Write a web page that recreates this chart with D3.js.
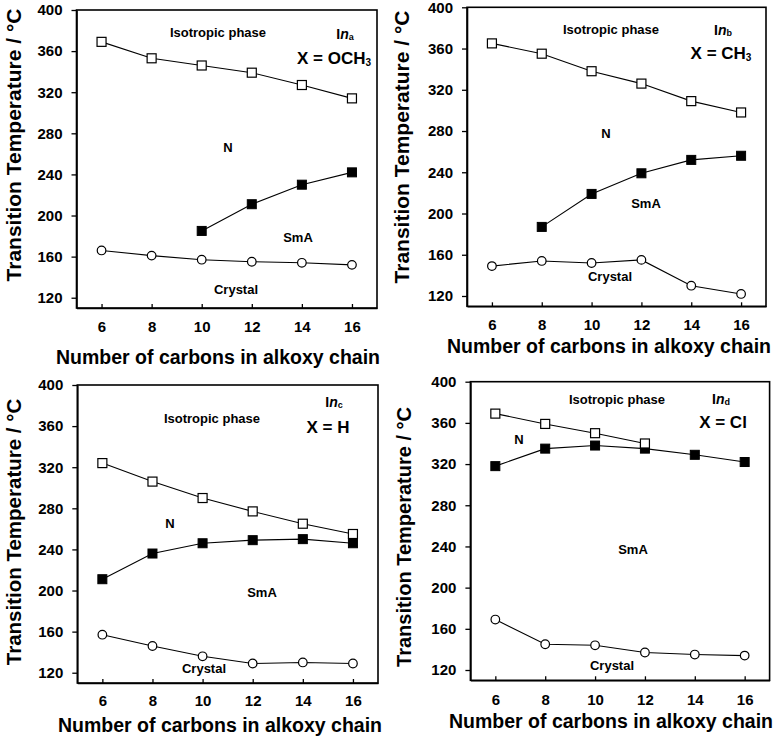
<!DOCTYPE html>
<html>
<head>
<meta charset="utf-8">
<script src="https://cdn.jsdelivr.net/npm/d3@7"></script>
<style>
  html, body { margin: 0; padding: 0; background: #fff; }
  svg { display: block; }
  text { font-family: "Liberation Sans", Arial, sans-serif; font-weight: bold; fill: #000; }
</style>
</head>
<body>
<svg id="chart" width="776" height="738"></svg>
<script>
// ---------- data ----------
const carbons = [6, 8, 10, 12, 14, 16];
const xTicks = [6, 8, 10, 12, 14, 16];
const yTicks = [120, 160, 200, 240, 280, 320, 360, 400];
const xTitle = "Number of carbons in alkoxy chain";
const yTitle = "Transition Temperature / °C";
const phaseLabels = ["Isotropic phase", "N", "SmA", "Crystal"];

// panel a: X = OCH3
const aIso = [369, 353, 346, 339, 327, 314];
const aSmA = [null, null, 185, 211, 230, 242];
const aCr  = [166, 161, 157, 155, 154, 152];
// panel b: X = CH3
const bIso = [365, 355, 338, 326, 309, 298];
const bSmA = [null, 187, 219, 239, 252, 256];
const bCr  = [149, 154, 152, 155, 130, 122];
// panel c: X = H
const cIso = [324, 306, 290, 277, 265, 255];
const cSmA = [211, 236, 246, 249, 250, 246];
const cCr  = [157, 146, 136, 129, 130, 129];
// panel d: X = Cl
const dIso = [369, 359, 350, 340, null, null];
const dSmA = [318, 335, 338, 335, 329, 322];
const dCr  = [169, 145, 144, 137, 135, 134];

const panelIds = ["a", "b", "c", "d"];
const panelX = ["OCH", "CH", "H", "Cl"];
const panelXSub = ["3", "3", "", ""];

// ---------- layout ----------
const panels = [
  { id: "a", iso: aIso, sma: aSmA, cr: aCr, box: {l: 76.5, r: 377, t: 10, b: 308},
    yT: {x: 13, y: 145, fs: 21}, xT: {x: 218, y: 364},
    tickY: 332,
    lab: { iso: [218, 32], inn: [345, 34], xx: [334, 58], N: [228, 147], SmA: [298, 237], Cr: [236, 289] } },
  { id: "b", iso: bIso, sma: bSmA, cr: bCr, box: {l: 467, r: 766, t: 7.3, b: 306.3},
    yT: {x: 401, y: 147, fs: 21}, xT: {x: 609, y: 353},
    tickY: 330,
    lab: { iso: [611, 29], inn: [723, 30], xx: [721, 53], N: [606, 133], SmA: [646, 203], Cr: [610, 276] } },
  { id: "c", iso: cIso, sma: cSmA, cr: cCr, box: {l: 77.3, r: 378, t: 385, b: 683},
    yT: {x: 13, y: 532, fs: 20.5}, xT: {x: 220, y: 732},
    tickY: 706,
    lab: { iso: [212, 418], inn: [334, 402], xx: [328, 427], N: [170, 523], SmA: [262, 592], Cr: [204, 668] } },
  { id: "d", iso: dIso, sma: dSmA, cr: dCr, box: {l: 470.4, r: 769.6, t: 381.7, b: 680.3},
    yT: {x: 404, y: 537, fs: 20}, xT: {x: 611, y: 728},
    tickY: 705,
    lab: { iso: [617, 399], inn: [721, 399], xx: [723, 422], N: [519, 439], SmA: [633, 549], Cr: [612, 665] } }
];

const svg = d3.select("#chart");

panels.forEach((p, i) => {
  const g = svg.append("g");
  const x = d3.scaleLinear().domain([5, 17]).range([p.box.l, p.box.r]);
  const y = d3.scaleLinear().domain([110, 400]).range([p.box.b, p.box.t]);

  // frame
  g.append("rect")
    .attr("x", p.box.l).attr("y", p.box.t)
    .attr("width", p.box.r - p.box.l).attr("height", p.box.b - p.box.t)
    .attr("fill", "none").attr("stroke", "#000").attr("stroke-width", 1.6);

  // y axis
  const ya = g.append("g").attr("transform", `translate(${p.box.l},0)`)
    .call(d3.axisLeft(y).tickValues(yTicks).tickSize(5).tickSizeOuter(0).tickPadding(9));
  ya.select(".domain").attr("stroke-width", 1.6);
  ya.selectAll(".tick line").attr("stroke-width", 1.3);
  ya.selectAll(".tick text").attr("font-size", 15).attr("font-family", "Liberation Sans, Arial, sans-serif").attr("font-weight", "bold");

  // x axis (inward ticks)
  const xa = g.append("g").attr("transform", `translate(0,${p.box.b})`)
    .call(d3.axisBottom(x).tickValues(xTicks).tickSize(-4).tickSizeOuter(0).tickPadding(0));
  xa.select(".domain").attr("stroke-width", 1.6);
  xa.selectAll(".tick line").attr("stroke-width", 1.3);
  xa.selectAll(".tick text")
    .attr("font-size", 15).attr("font-family", "Liberation Sans, Arial, sans-serif").attr("font-weight", "bold")
    .attr("dy", null)
    .attr("y", p.tickY - p.box.b);

  // titles
  g.append("text")
    .attr("transform", `translate(${p.yT.x},${p.yT.y}) rotate(-90)`)
    .attr("text-anchor", "middle").attr("dominant-baseline", "central")
    .attr("font-size", p.yT.fs).text(yTitle);
  g.append("text")
    .attr("x", p.xT.x).attr("y", p.xT.y)
    .attr("text-anchor", "middle").attr("font-size", 19.5).text(xTitle);

  // data series
  const line = d3.line().defined(d => d[1] != null).x(d => x(d[0])).y(d => y(d[1]));
  const pts = arr => carbons.map((c, k) => [c, arr[k]]);
  const valid = arr => pts(arr).filter(d => d[1] != null);

  [p.cr, p.sma, p.iso].forEach(arr => {
    g.append("path").datum(pts(arr)).attr("d", line)
      .attr("fill", "none").attr("stroke", "#000").attr("stroke-width", 1.1);
  });

  const sq = 9;
  // circles (crystal)
  g.selectAll(null).data(valid(p.cr)).enter().append("circle")
    .attr("cx", d => x(d[0])).attr("cy", d => y(d[1])).attr("r", 4.3)
    .attr("fill", "#fff").attr("stroke", "#000").attr("stroke-width", 1.2);
  // filled squares (SmA-N / SmA-I)
  g.selectAll(null).data(valid(p.sma)).enter().append("rect")
    .attr("x", d => x(d[0]) - sq / 2).attr("y", d => y(d[1]) - sq / 2)
    .attr("width", sq).attr("height", sq)
    .attr("fill", "#000").attr("stroke", "#000").attr("stroke-width", 1);
  // open squares (clearing)
  g.selectAll(null).data(valid(p.iso)).enter().append("rect")
    .attr("x", d => x(d[0]) - sq / 2).attr("y", d => y(d[1]) - sq / 2)
    .attr("width", sq).attr("height", sq)
    .attr("fill", "#fff").attr("stroke", "#000").attr("stroke-width", 1.2);

  // phase labels
  const L = p.lab;
  const lab = (pos, txt, fs) => g.append("text").attr("x", pos[0]).attr("y", pos[1])
    .attr("text-anchor", "middle").attr("dominant-baseline", "central")
    .attr("font-size", fs).text(txt);
  lab(L.iso, phaseLabels[0], 13);
  lab(L.N, phaseLabels[1], 13);
  lab(L.SmA, phaseLabels[2], 13);
  lab(L.Cr, phaseLabels[3], 13);

  // compound label In_x
  const t1 = g.append("text").attr("x", L.inn[0]).attr("y", L.inn[1])
    .attr("text-anchor", "middle").attr("dominant-baseline", "central").attr("font-size", 14);
  t1.append("tspan").text("I");
  t1.append("tspan").attr("font-style", "italic").text("n");
  t1.append("tspan").attr("font-size", 9).attr("dy", 3).text(panelIds[i]);

  // substituent label
  const t2 = g.append("text").attr("x", L.xx[0]).attr("y", L.xx[1])
    .attr("text-anchor", "middle").attr("dominant-baseline", "central").attr("font-size", 17);
  t2.append("tspan").text("X = " + panelX[i]);
  if (panelXSub[i]) t2.append("tspan").attr("font-size", 10).attr("dy", 4).text(panelXSub[i]);
});
</script>
</body>
</html>
